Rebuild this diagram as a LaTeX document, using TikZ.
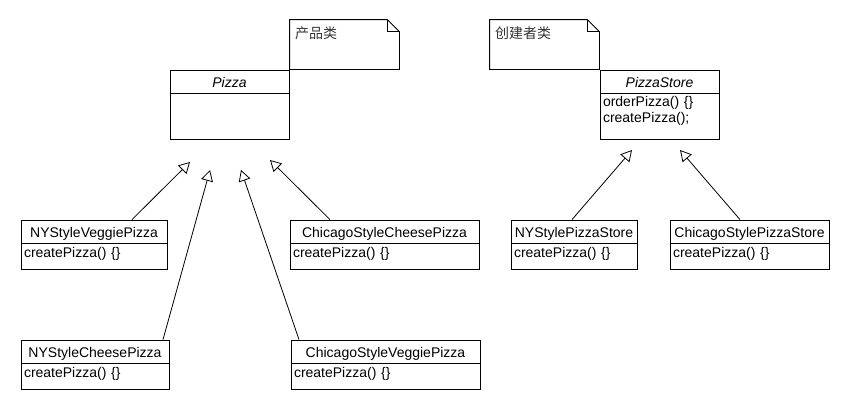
\documentclass[tikz,border=0pt]{standalone}
\usepackage{fontspec}
\setmainfont{Liberation Sans}
\newfontfamily\cjk{Noto Sans CJK SC}
\usetikzlibrary{positioning,arrows.meta}

\begin{document}
\begin{tikzpicture}[x=1pt, y=-1pt, line width=0.8pt,
    every node/.style={font=\fontsize{14}{16}\selectfont},
    head/.style={draw, inner ysep=0pt, text height=17.5pt, text depth=5.5pt},
    ops/.style={draw, inner xsep=3pt, inner ysep=0pt, align=left, text height=14pt, text depth=12pt},
    notebox/.style={inner xsep=5pt, inner ysep=0pt, text width=99pt, align=left, text height=18pt, text depth=31pt, text=black!80},
    extends/.style={-{Triangle[open, length=11pt, width=12pt]}}]
    \useasboundingbox (0,0) rectangle (850,410);

    % product side
    \node[head, minimum width=119pt] (pizza) at (229.5,81.5) {\itshape Pizza};
    \node[ops, text width=113pt, text depth=32pt, below=0pt of pizza] (pizzaops) {};
    \node[notebox] (prodnote) at (344.5,44.5) {\cjk 产品类};
    \draw (prodnote.north west) -- ([xshift=-12pt]prodnote.north east) -- ([yshift=-12pt]prodnote.north east) -- (prodnote.south east) -- (prodnote.south west) -- cycle;
    \draw ([xshift=-12pt]prodnote.north east) |- ([yshift=-12pt]prodnote.north east);

    \node[head, minimum width=146pt] (nyveggie) at (94,231.5) {NYStyleVeggiePizza};
    \node[ops, text width=140pt, below=0pt of nyveggie] (nyveggieops) {createPizza() \{\}};
    \node[head, minimum width=189pt] (chicheese) at (384.5,231.5) {ChicagoStyleCheesePizza};
    \node[ops, text width=183pt, below=0pt of chicheese] (chicheeseops) {createPizza() \{\}};
    \node[head, minimum width=148pt] (nycheese) at (95,351.5) {NYStyleCheesePizza};
    \node[ops, text width=142pt, below=0pt of nycheese] (nycheeseops) {createPizza() \{\}};
    \node[head, minimum width=189pt] (chiveggie) at (385.5,351.5) {ChicagoStyleVeggiePizza};
    \node[ops, text width=183pt, below=0pt of chiveggie] (chiveggieops) {createPizza() \{\}};

    \coordinate (pz1) at (190,162);
    \coordinate (pz2) at (210,170);
    \coordinate (pz3) at (241,170);
    \coordinate (pz4) at (270,160);
    \draw[extends] ([xshift=38pt]nyveggie.north) -- (pz1);
    \draw[extends] ([xshift=68pt]nycheese.north) -- (pz2);
    \draw[extends] ([xshift=-86.5pt]chiveggie.north) -- (pz3);
    \draw[extends] ([xshift=-54.5pt]chicheese.north) -- (pz4);

    % creator side
    \node[head, minimum width=119pt] (store) at (659.5,81.5) {\itshape PizzaStore};
    \node[ops, text width=113pt, text height=13pt, text depth=33pt, below=0pt of store] (storeops) {orderPizza() \{\}\\createPizza();};
    \node[notebox] (creatornote) at (544.5,44.5) {\cjk 创建者类};
    \draw (creatornote.north west) -- ([xshift=-12pt]creatornote.north east) -- ([yshift=-12pt]creatornote.north east) -- (creatornote.south east) -- (creatornote.south west) -- cycle;
    \draw ([xshift=-12pt]creatornote.north east) |- ([yshift=-12pt]creatornote.north east);

    \node[head, minimum width=126pt] (nystore) at (574,231.5) {NYStylePizzaStore};
    \node[ops, text width=120pt, below=0pt of nystore] (nystoreops) {createPizza() \{\}};
    \node[head, minimum width=159pt] (chistore) at (749.5,231.5) {ChicagoStylePizzaStore};
    \node[ops, text width=153pt, below=0pt of chistore] (chistoreops) {createPizza() \{\}};

    \coordinate (ps1) at (632,150);
    \coordinate (ps2) at (680,150);
    \draw[extends] ([xshift=-2pt]nystore.north) -- (ps1);
    \draw[extends] ([xshift=-9.5pt]chistore.north) -- (ps2);
\end{tikzpicture}
\end{document}
